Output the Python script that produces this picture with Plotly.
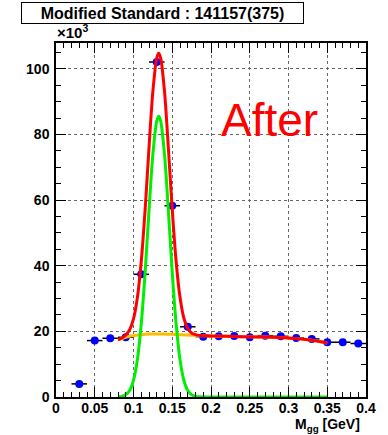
import plotly.graph_objects as go

# ---- data (values in units of 10^3 entries) ----
bin_x = [0.03, 0.05, 0.07, 0.09, 0.11, 0.13, 0.15, 0.17, 0.19, 0.21,
         0.23, 0.25, 0.27, 0.29, 0.31, 0.33, 0.35, 0.37, 0.39]
bin_y = [4.0, 17.2, 17.9, 18.2, 37.4, 102.1, 58.3, 21.4, 18.4, 18.5,
         18.6, 18.2, 18.7, 18.5, 18.0, 17.7, 16.7, 16.7, 16.3]
bin_half_width = 0.01

curve_x = [0.08, 0.085, 0.09, 0.095, 0.10, 0.105, 0.11, 0.115, 0.12, 0.125,
           0.13, 0.1325, 0.135, 0.14, 0.145, 0.15, 0.155, 0.16, 0.165, 0.17,
           0.175, 0.18, 0.185, 0.19, 0.20, 0.22, 0.24, 0.26, 0.28, 0.30,
           0.31, 0.32, 0.33, 0.34, 0.35]
signal_y = [0.05, 0.2, 0.7, 2.0, 5.1, 11.4, 22.3, 38.0, 56.8, 74.0,
            84.2, 85.6, 84.2, 74.0, 56.8, 38.0, 22.3, 11.4, 5.1, 2.0,
            0.7, 0.2, 0.05, 0.0, 0.0, 0.0, 0.0, 0.0, 0.0, 0.0,
            0.0, 0.0, 0.0, 0.0, 0.0]
background_y = [17.4, 17.8, 18.2, 18.5, 18.7, 18.9, 19.0, 19.1, 19.2, 19.2,
                19.2, 19.2, 19.2, 19.2, 19.1, 19.1, 19.0, 19.0, 18.9, 18.9,
                18.8, 18.8, 18.7, 18.7, 18.6, 18.5, 18.4, 18.3, 18.2, 18.0,
                17.8, 17.6, 17.3, 16.9, 16.4]
total_y = [17.45, 18.0, 18.9, 20.5, 23.8, 30.3, 41.3, 57.1, 76.0, 93.2,
           103.4, 104.8, 103.4, 93.2, 75.9, 57.1, 41.3, 30.4, 24.0, 20.9,
           19.5, 19.0, 18.75, 18.7, 18.6, 18.5, 18.4, 18.3, 18.2, 18.0,
           17.8, 17.6, 17.3, 16.9, 16.4]

title_text = "Modified Standard : 141157(375)"
label_text = "After"
x_title = "M<sub>gg</sub> [GeV]"
y_exponent = "×10<sup>3</sup>"

FONT = "Liberation Sans, Arial, Helvetica, sans-serif"

fig = go.Figure()

fig.add_trace(go.Scatter(
    x=bin_x, y=bin_y, mode="markers",
    marker=dict(color="#0000ff", size=8, line=dict(width=0)),
    error_x=dict(type="constant", value=bin_half_width, color="black",
                 thickness=1.5, width=0),
    showlegend=False, hoverinfo="skip"))

fig.add_trace(go.Scatter(
    x=curve_x, y=background_y, mode="lines",
    line=dict(color="#ffbb00", width=3, shape="spline", smoothing=0.8),
    showlegend=False, hoverinfo="skip"))

fig.add_trace(go.Scatter(
    x=curve_x, y=signal_y, mode="lines",
    line=dict(color="#00ee00", width=3, shape="spline", smoothing=0.8),
    showlegend=False, hoverinfo="skip"))

fig.add_trace(go.Scatter(
    x=curve_x, y=total_y, mode="lines",
    line=dict(color="#ff0000", width=3, shape="spline", smoothing=0.8),
    showlegend=False, hoverinfo="skip"))

axis_common = dict(
    showline=True, linecolor="black", linewidth=1.5, mirror="allticks",
    ticks="inside", tickcolor="black", tickwidth=1,
    showgrid=True, gridcolor="#666666", gridwidth=1, griddash="dot",
    zeroline=False,
    tickfont=dict(family=FONT, size=14, color="black", weight="bold"),
)

fig.update_xaxes(range=[0, 0.4], dtick=0.05, tick0=0, ticklen=10,
                 ticklabelstandoff=-3,
                 minor=dict(dtick=0.01, ticklen=5, ticks="inside",
                            tickcolor="black", showgrid=False),
                 **axis_common)
fig.update_yaxes(range=[0, 107.9], dtick=20, tick0=0, ticklen=10,
                 ticklabelstandoff=2,
                 minor=dict(dtick=5, ticklen=5, ticks="inside",
                            tickcolor="black", showgrid=False),
                 **axis_common)

fig.update_layout(
    width=388, height=435, autosize=False,
    margin=dict(l=56, r=17, t=43, b=38, pad=0),
    paper_bgcolor="white", plot_bgcolor="white",
    font=dict(family=FONT, color="black"),
    annotations=[
        dict(text=title_text, xref="paper", yref="paper",
             x=0.343, y=1.0839, xanchor="center", yanchor="middle",
             showarrow=False, width=281, height=20, borderpad=0,
             bordercolor="black", borderwidth=1, bgcolor="white",
             font=dict(family=FONT, size=16, color="black", weight="bold")),
        dict(text=y_exponent, xref="paper", yref="paper",
             x=-0.003, y=1.0, xanchor="left", yanchor="bottom",
             showarrow=False,
             font=dict(family=FONT, size=15, color="black", weight="bold")),
        dict(text=label_text, xref="paper", yref="paper",
             x=0.688, y=0.783, xanchor="center", yanchor="middle",
             showarrow=False,
             font=dict(family=FONT, size=46, color="#ff0000")),
        dict(text=x_title, xref="paper", yref="paper",
             x=0.987, y=-0.047, xanchor="right", yanchor="top",
             showarrow=False,
             font=dict(family=FONT, size=14, color="black", weight="bold")),
    ],
)

fig.write_html("out.html")
